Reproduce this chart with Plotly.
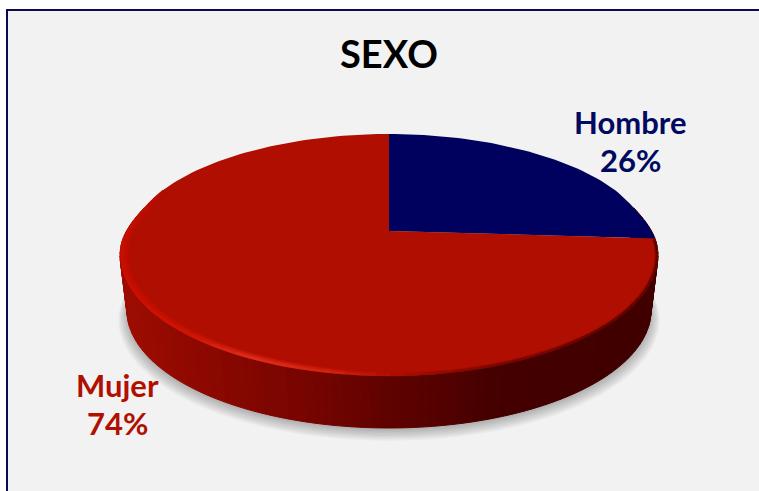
import math
import plotly.graph_objects as go

categories = ["Hombre", "Mujer"]
values = [26, 74]
top_colors = ["#00005f", "#b00e00"]
label_colors = ["#000a60", "#b01000"]
title_text = "SEXO"
label_pos = [(630, 122, 160), (117, 385, 423)]

W, H = 759, 491
CX, CY = 389, 231
A, B, C = 263.7, 116.2, 0.198
DY = 56.6
SB = 0.975


def proj(theta, s=1.0, dy=0.0):
    u, v = math.sin(theta), math.cos(theta)
    # slight flattening of the outline just behind the widest point
    u *= 1 - 0.012 * math.exp(-((v - 0.2) / 0.2) ** 2)
    u, v = s * u, s * v
    d = 1 + C * v
    return CX + A * u / d, CY + dy - B * v / d


def mix(c1, c2, t):
    return tuple(c1[i] + (c2[i] - c1[i]) * t for i in range(3))


def rgb(c):
    return "rgb(%d,%d,%d)" % tuple(round(x) for x in c)


def interp(stops, x):
    if x <= stops[0][0]:
        return stops[0][1]
    for (a, ca), (b, cb) in zip(stops, stops[1:]):
        if x <= b:
            return mix(ca, cb, (x - a) / (b - a))
    return stops[-1][1]


fig = go.Figure()


def poly(xs, ys, fill, line=None, width=0):
    fig.add_trace(go.Scatter(
        x=xs, y=ys, mode="lines", fill="toself", fillcolor=fill,
        line=dict(color=line or fill, width=width), hoverinfo="skip", showlegend=False))


N = 240
circle = [2 * math.pi * i / N for i in range(N + 1)]

# soft shadow under the disc
for k in range(10):
    pts = [proj(t, SB + 0.0035 * k, DY + 2 + 0.6 * k) for t in circle]
    poly([p[0] for p in pts], [p[1] for p in pts], "rgba(0,0,0,0.028)")

# side wall, shaded across the width
wall_stops = [(120, (158, 12, 0)), (200, (140, 8, 0)), (300, (120, 5, 0)),
              (400, (92, 2, 0)), (500, (68, 0, 0)), (660, (64, 0, 0))]
M = 120
start, end = math.radians(78), math.radians(282)
for i in range(M):
    t0 = start + (end - start) * i / M
    t1 = start + (end - start) * (i + 1) / M
    a0, a1 = proj(t0), proj(t1)
    b0, b1 = proj(t0, SB, DY), proj(t1, SB, DY)
    col = rgb(interp(wall_stops, (a0[0] + a1[0]) / 2))
    poly([a0[0], a1[0], b1[0], b0[0], a0[0]], [a0[1], a1[1], b1[1], b0[1], a0[1]], col, col, 1)

# top face: one wedge per category
total = sum(values)
acc = 0
for val, col in zip(values, top_colors):
    t0 = 2 * math.pi * acc / total
    t1 = 2 * math.pi * (acc + val) / total
    n = max(2, int(N * val / total))
    pts = [proj(t0 + (t1 - t0) * i / n) for i in range(n + 1)]
    xs = [CX] + [p[0] for p in pts] + [CX]
    ys = [CY] + [p[1] for p in pts] + [CY]
    poly(xs, ys, col)
    acc += val

# bevel along the front rim: wide on the left, thin on the right
base = (176, 14, 0)
rim_stops = [(120, (205, 14, 0)), (190, (212, 22, 6)), (250, (228, 48, 28)), (330, (215, 35, 18)),
             (400, (170, 12, 0)), (480, (120, 5, 0)), (600, (85, 0, 0)), (660, (70, 0, 0))]
inner_stops = [(120, (0.968, 0, 0)), (300, (0.972, 0, 0)), (420, (0.984, 0, 0)), (660, (0.99, 0, 0))]
bands = [0.968 + 0.004 * k for k in range(8)]
R = 74
r0, r1 = math.radians(94), math.radians(292)
fade0, fade1 = math.radians(262), math.radians(292)
for s in bands:
    for i in range(R):
        t0 = r0 + (r1 - r0) * i / R
        t1 = r0 + (r1 - r0) * (i + 1) / R
        a0, a1 = proj(t0, s), proj(t1, s)
        xm = (a0[0] + a1[0]) / 2
        s_in = interp(inner_stops, xm)[0]
        w = max(0.0, min(1.0, (s - s_in) / (0.998 - s_in)))
        fade = 1.0 if t0 < fade0 else max(0.0, (fade1 - t0) / (fade1 - fade0))
        if w * fade <= 0:
            continue
        c = mix(base, interp(rim_stops, xm), (w ** 0.8) * fade)
        fig.add_trace(go.Scatter(x=[a0[0], a1[0]], y=[a0[1], a1[1]], mode="lines",
                                 line=dict(color=rgb(c), width=2), hoverinfo="skip", showlegend=False))

annotations = [dict(x=389, y=53, text="<b>%s</b>" % title_text, showarrow=False,
                    font=dict(family="Lato", size=38, color="#000000"))]
for cat, val, col, (lx, ly1, ly2) in zip(categories, values, label_colors, label_pos):
    for text, ly in ((cat, ly1), ("%d%%" % round(100 * val / total), ly2)):
        annotations.append(dict(x=lx, y=ly, text="<b>%s</b>" % text, showarrow=False,
                                font=dict(family="Lato", size=31, color=col)))

fig.update_layout(
    width=W, height=H, margin=dict(l=0, r=0, t=0, b=0), autosize=False,
    paper_bgcolor="white", plot_bgcolor="white", showlegend=False,
    xaxis=dict(range=[0, W], visible=False, fixedrange=True),
    yaxis=dict(range=[H, 0], visible=False, fixedrange=True),
    annotations=annotations,
    shapes=[dict(type="rect", xref="x", yref="y", x0=7, y0=10, x1=800, y1=540,
                 fillcolor="#f2f2f2", line=dict(color="#0a0a50", width=2), layer="below")],
)
fig.write_html("out.html", config={"displayModeBar": False},
               post_script="document.body.style.margin='0';document.body.style.overflow='hidden';")
